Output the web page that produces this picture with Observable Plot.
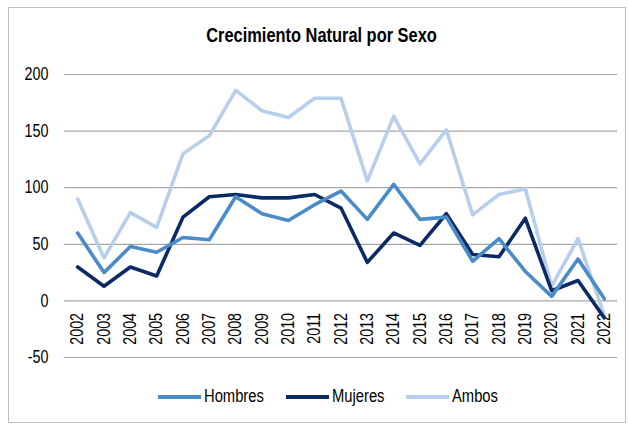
<!DOCTYPE html>
<html>
<head>
<meta charset="utf-8">
<script src="https://cdn.jsdelivr.net/npm/d3@7"></script>
<script src="https://cdn.jsdelivr.net/npm/@observablehq/plot@0.6"></script>
<style>
  html, body { margin: 0; padding: 0; background: #fff; }
  #wrap { position: relative; width: 628px; height: 426px; overflow: hidden;
          font-family: "Liberation Sans", Arial, sans-serif; }
  #frame { position: absolute; left: 8px; top: 7px; width: 618px; height: 416px; border: 1px solid #bfbfbf; box-sizing: border-box; }
  #title { position: absolute; left: 0; width: 643px; top: 24px; text-align: center;
           font-weight: bold; font-size: 20px; color: #000; transform: scaleX(0.82); transform-origin: 321.5px 0; white-space: nowrap; }
  #chart { position: absolute; left: 0; top: 0; }
  #legend { position: absolute; left: 0; width: 656px; top: 386px; display: flex; justify-content: center;
            font-size: 18px; color: #000; }
  .item { display: flex; align-items: center; margin: 0 10.75px; }
  .sw { width: 43px; height: 4px; margin-right: 3px; flex: none; }
  .lbw { display: inline-block; overflow: visible; white-space: nowrap; }
  .lb { display: inline-block; transform: scaleX(0.82); transform-origin: 0 0; white-space: nowrap; }
</style>
</head>
<body>
<div id="wrap">
  <div id="frame"></div>
  <div id="chart"></div>
  <div id="title">Crecimiento Natural por Sexo</div>
  <div id="legend"></div>
</div>
<script>
const years = d3.range(2002, 2023);
const hombres = [60, 25, 48, 43, 56, 54, 92, 77, 71, 85, 97, 72, 103, 72, 74, 35, 55, 26, 4, 37, 2];
const mujeres = [30, 13, 30, 22, 74, 92, 94, 91, 91, 94, 82, 34, 60, 49, 77, 41, 39, 73, 9, 18, -15];
const ambos   = [90, 38, 78, 65, 130, 146, 186, 168, 162, 179, 179, 106, 163, 121, 151, 76, 94, 99, 13, 55, -13];
const seriesNames = ["Hombres", "Mujeres", "Ambos"];
const seriesColors = ["#4a8cc8", "#0c2a66", "#b7cfea"];
const yTicks = [-50, 0, 50, 100, 150, 200];

const seriesValues = [hombres, mujeres, ambos];
const rows = [];
seriesNames.forEach((name, s) => years.forEach((yr, i) => rows.push({serie: name, year: yr, value: seriesValues[s][i]})));

const font = '"Liberation Sans", Arial, sans-serif';
const narrow = 0.82;

const plot = Plot.plot({
  width: 628,
  height: 426,
  marginLeft: 64,
  marginRight: 11,
  marginTop: 74,
  marginBottom: 69,
  style: {fontFamily: font, background: "transparent", overflow: "visible"},
  x: {type: "linear", domain: [2001.5, 2022.5], axis: null},
  y: {domain: [-50, 200], axis: null},
  marks: [
    Plot.ruleY(yTicks, {stroke: "#a6a6a6", strokeWidth: 1.2}),
    Plot.axisY({ticks: yTicks, tickSize: 0, tickPadding: 16, label: null, fontSize: 17.5, textAnchor: "end", fill: "#000", tickFormat: d => d < 0 ? "-" + Math.abs(d) : String(d)}),
    Plot.text(years, {x: d => d, y: 0, text: d => String(d), rotate: -90, textAnchor: "end", lineAnchor: "middle", dy: 12, fontSize: 17.5, fill: "#000"}),
    ...seriesNames.slice().reverse().map(name =>
      Plot.line(rows.filter(r => r.serie === name), {x: "year", y: "value", stroke: seriesColors[seriesNames.indexOf(name)], strokeWidth: 3.6, strokeLinejoin: "round", strokeLinecap: "round"})
    )
  ]
});
document.getElementById("chart").appendChild(plot);
// condense the text horizontally (Arial Narrow look)
d3.select(plot).selectAll("text").each(function() {
  const t = this.getAttribute("transform") || "";
  this.setAttribute("transform", t + ` scale(${narrow},1)`);
});

const legend = document.getElementById("legend");
seriesNames.forEach((name, i) => {
  const it = document.createElement("div");
  it.className = "item";
  const sw = document.createElement("div");
  sw.className = "sw";
  sw.style.background = seriesColors[i];
  const wrap = document.createElement("span");
  wrap.className = "lbw";
  const lb = document.createElement("span");
  lb.className = "lb";
  lb.textContent = name;
  wrap.appendChild(lb);
  it.appendChild(sw); it.appendChild(wrap);
  legend.appendChild(it);
  const w = lb.getBoundingClientRect().width; // already scaled
  wrap.style.width = w + "px";
});
</script>
</body>
</html>
